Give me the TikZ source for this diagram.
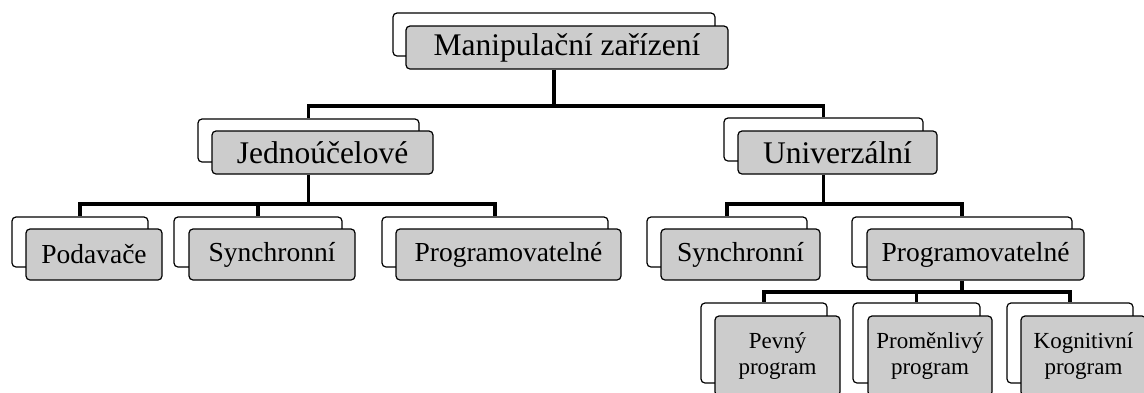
\documentclass[tikz,border=0pt]{standalone}
\usepackage{fontspec}
\setmainfont{Liberation Serif}
\definecolor{boxgray}{RGB}{204,204,204}
\tikzset{
  backbox/.style={draw=black, fill=white, rounded corners=4pt, line width=1.2pt, inner sep=0pt},
  frontbox/.style={draw=black, fill=boxgray, rounded corners=4pt, line width=1.2pt, inner sep=0pt, align=center},
  conn/.style={draw=black, line width=3.2pt},
  fA/.style={font=\fontsize{31.5}{37}\selectfont},
  fB/.style={font=\fontsize{27.5}{33}\selectfont},
  fC/.style={font=\fontsize{23}{26}\selectfont},
}
\begin{document}
\begin{tikzpicture}[x=1pt,y=-1pt]
\useasboundingbox (0,0) rectangle (1144,392);
\clip (0,0) rectangle (1144,392);
\coordinate (bus1) at (0,106);
\coordinate (bus2) at (0,204);
\coordinate (bus3) at (0,292);
% ---------- level 1
\node[backbox, minimum width=322pt, minimum height=43pt] (Mb) at (554,34.5) {};
\node[frontbox, fA, minimum width=322pt, minimum height=43pt] (Mf) at (567,47.5) {Manipulační zařízení};
% ---------- level 2
\node[backbox, minimum width=221pt, minimum height=43pt] (Jb) at (308.5,140.5) {};
\node[frontbox, fA, minimum width=221pt, minimum height=43pt] (Jf) at (322.5,152.5) {Jednoúčelové};
\node[backbox, minimum width=199pt, minimum height=43pt] (Ub) at (823.5,139.5) {};
\node[frontbox, fA, minimum width=199pt, minimum height=43pt] (Uf) at (837.5,152.5) {Univerzální};
% ---------- level 3
\node[backbox, minimum width=136pt, minimum height=50pt] (Pb) at (80,242) {};
\node[frontbox, fB, minimum width=136pt, minimum height=51pt] (Pf) at (94,254.5) {Podavače};
\node[backbox, minimum width=168pt, minimum height=50pt] (S1b) at (258,242) {};
\node[frontbox, fB, minimum width=166pt, minimum height=51pt] (S1f) at (272,254.5) {Synchronní};
\node[backbox, minimum width=226pt, minimum height=50pt] (G1b) at (495,242) {};
\node[frontbox, fB, minimum width=225pt, minimum height=51pt] (G1f) at (508.5,254.5) {Programovatelné};
\node[backbox, minimum width=160pt, minimum height=50pt] (S2b) at (727,242) {};
\node[frontbox, fB, minimum width=159pt, minimum height=51pt] (S2f) at (740.5,254.5) {Synchronní};
\node[backbox, minimum width=220pt, minimum height=50pt] (G2b) at (962,242) {};
\node[frontbox, fB, minimum width=217pt, minimum height=51pt] (G2f) at (975.5,254.5) {Programovatelné};
% ---------- level 4
\node[backbox, minimum width=126pt, minimum height=80pt] (Fb) at (764,343) {};
\node[frontbox, fC, minimum width=125pt, minimum height=80pt] (Ff) at (777.5,356) {Pevný\\program};
\node[backbox, minimum width=127pt, minimum height=80pt] (Vb) at (916.5,343) {};
\node[frontbox, fC, minimum width=124pt, minimum height=80pt] (Vf) at (930,356) {Proměnlivý\\program};
\node[backbox, minimum width=126pt, minimum height=80pt] (Kb) at (1070,343) {};
\node[frontbox, fC, minimum width=125pt, minimum height=80pt] (Kf) at (1083.5,356) {Kognitivní\\program};
% ---------- connectors
\draw[conn] (Mb.center |- Mf.south) -- (Mb.center |- bus1);
\draw[conn] (Mb.center |- bus1) -| (Jb.north);
\draw[conn] (Mb.center |- bus1) -| (Ub.north);
\draw[conn] (Jb.center |- Jf.south) -- (Jb.center |- bus2);
\draw[conn] (Jb.center |- bus2) -| (Pb.north);
\draw[conn] (Jb.center |- bus2) -| (S1b.north);
\draw[conn] (Jb.center |- bus2) -| (G1b.north);
\draw[conn] (Ub.center |- Uf.south) -- (Ub.center |- bus2);
\draw[conn] (Ub.center |- bus2) -| (S2b.north);
\draw[conn] (Ub.center |- bus2) -| (G2b.north);
\draw[conn] (G2b.center |- G2f.south) -- (G2b.center |- bus3);
\draw[conn] (G2b.center |- bus3) -| (Fb.north);
\draw[conn] (G2b.center |- bus3) -| (Vb.north);
\draw[conn] (G2b.center |- bus3) -| (Kb.north);
\end{tikzpicture}
\end{document}
